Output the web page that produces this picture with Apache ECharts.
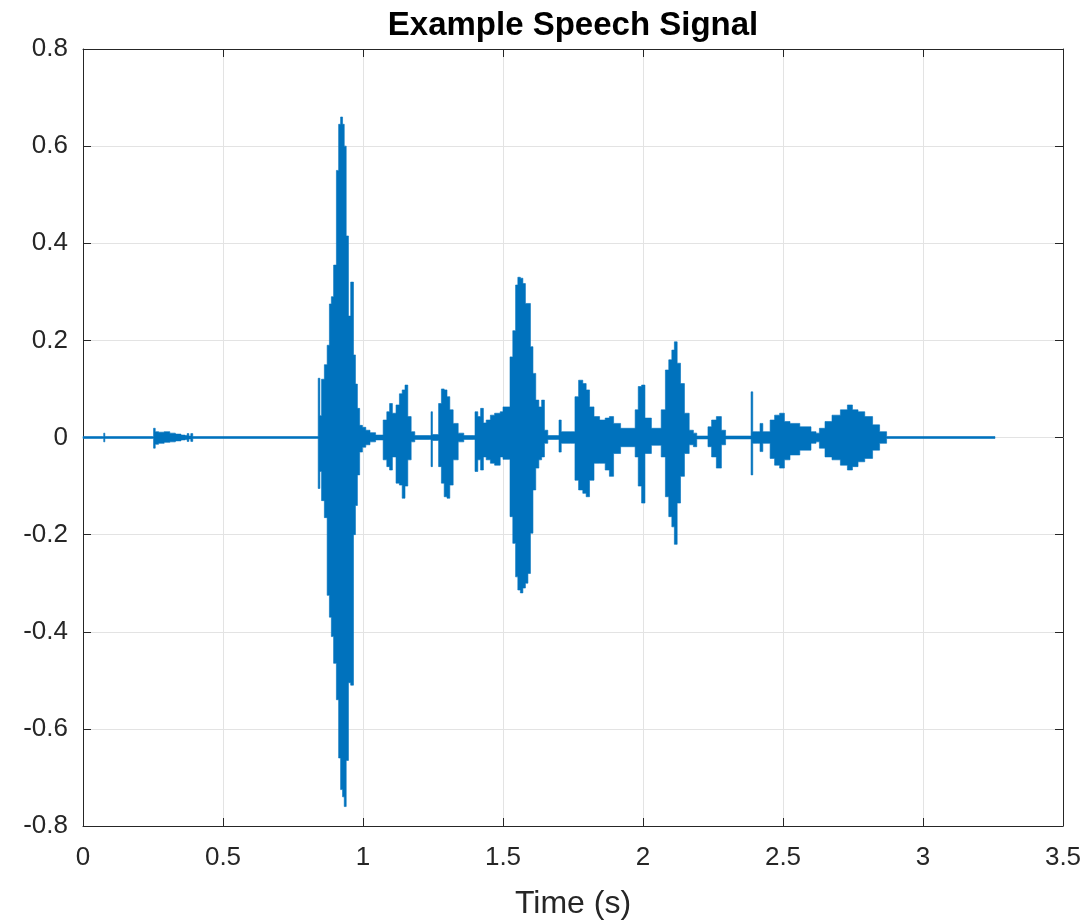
<!DOCTYPE html>
<html>
<head>
<meta charset="utf-8">
<script src="https://cdn.jsdelivr.net/npm/echarts@6/dist/echarts.min.js"></script>
<style>
  html, body { margin: 0; padding: 0; background: #ffffff; }
  #chart { width: 1091px; height: 922px; }
</style>
</head>
<body>
<div id="chart"></div>
<script>
// ---- Data (signal envelope: time in s, upper/lower amplitude) ----
const chartTitle = 'Example Speech Signal';
const xAxisTitle = 'Time (s)';
const xTicks = [0, 0.5, 1, 1.5, 2, 2.5, 3, 3.5];
const yTicks = [-0.8, -0.6, -0.4, -0.2, 0, 0.2, 0.4, 0.6, 0.8];

const timeS = [
  0.000, 0.070, 0.074, 0.078, 0.248, 0.252, 0.258, 0.270, 0.290, 0.310, 0.330, 0.350, 0.365, 0.372, 0.378, 0.385, 0.392,
  0.835, 0.840, 0.846, 0.852, 0.862, 0.872, 0.880, 0.887, 0.895, 0.905, 0.913, 0.920, 0.927, 0.933, 0.940, 0.948, 0.956,
  0.966, 0.973, 0.980, 0.988, 0.998, 1.010, 1.025, 1.045, 1.068,
  1.072, 1.085, 1.095, 1.105, 1.118, 1.130, 1.140, 1.150, 1.160, 1.172, 1.185, 1.238, 1.243, 1.248, 1.265,
  1.270, 1.280, 1.290, 1.300, 1.310, 1.322, 1.340, 1.360, 1.395,
  1.400, 1.410, 1.420, 1.430, 1.440, 1.455, 1.470, 1.490, 1.500,
  1.525, 1.535, 1.545, 1.553, 1.562, 1.571, 1.580, 1.589, 1.598, 1.607, 1.617, 1.628, 1.638, 1.648, 1.660, 1.695,
  1.700, 1.708, 1.740,
  1.757, 1.770, 1.785, 1.797, 1.809, 1.825, 1.845, 1.865, 1.880, 1.895, 1.920, 1.960,
  1.972, 1.983, 1.995, 2.007, 2.030, 2.060,
  2.065, 2.080, 2.092, 2.103, 2.112, 2.122, 2.134, 2.148, 2.165, 2.180, 2.192, 2.225,
  2.232, 2.245, 2.262, 2.280, 2.295, 2.380, 2.386, 2.392, 2.410, 2.418, 2.428, 2.450,
  2.454, 2.470, 2.488, 2.505, 2.525, 2.560, 2.600, 2.618, 2.630, 2.650, 2.675, 2.705, 2.730, 2.748, 2.768, 2.792, 2.820, 2.845, 2.870,
  3.257
];
const upperEnv = [
  0.002, 0.002, 0.009, 0.002, 0.002, 0.019, 0.012, 0.011, 0.012, 0.009, 0.007, 0.005, 0.004, 0.008, 0.003, 0.008, 0.002,
  0.002, 0.122, 0.045, 0.120, 0.150, 0.190, 0.275, 0.290, 0.355, 0.550, 0.645, 0.660, 0.645, 0.600, 0.415, 0.250, 0.320,
  0.170, 0.110, 0.060, 0.025, 0.021, 0.015, 0.010, 0.005, 0.005,
  0.036, 0.053, 0.070, 0.050, 0.067, 0.090, 0.098, 0.108, 0.043, 0.012, 0.004, 0.004, 0.053, 0.006, 0.006,
  0.070, 0.100, 0.098, 0.084, 0.057, 0.029, 0.009, 0.004, 0.004,
  0.053, 0.043, 0.060, 0.030, 0.036, 0.046, 0.050, 0.053, 0.063,
  0.166, 0.220, 0.314, 0.330, 0.328, 0.317, 0.276, 0.276, 0.187, 0.132, 0.077, 0.063, 0.077, 0.015, 0.004, 0.004,
  0.036, 0.012, 0.012,
  0.084, 0.118, 0.111, 0.098, 0.063, 0.043, 0.036, 0.040, 0.043, 0.029, 0.019, 0.019,
  0.057, 0.105, 0.108, 0.040, 0.019, 0.019,
  0.057, 0.139, 0.160, 0.180, 0.197, 0.153, 0.111, 0.050, 0.015, 0.009, 0.003, 0.003,
  0.022, 0.036, 0.043, 0.015, 0.003, 0.003, 0.094, 0.012, 0.012, 0.029, 0.012, 0.012,
  0.036, 0.046, 0.050, 0.033, 0.029, 0.022, 0.012, 0.009, 0.019, 0.033, 0.046, 0.057, 0.067, 0.057, 0.053, 0.043, 0.026, 0.012, 0.002,
  0.002
];
const lowerEnv = [
  -0.002, -0.002, -0.009, -0.002, -0.002, -0.022, -0.014, -0.012, -0.010, -0.009, -0.007, -0.005, -0.004, -0.008, -0.003, -0.008, -0.002,
  -0.002, -0.105, -0.070, -0.130, -0.165, -0.325, -0.370, -0.410, -0.465, -0.540, -0.660, -0.725, -0.740, -0.760, -0.665, -0.505, -0.510,
  -0.200, -0.140, -0.077, -0.030, -0.020, -0.015, -0.009, -0.005, -0.005,
  -0.046, -0.060, -0.067, -0.040, -0.094, -0.098, -0.125, -0.100, -0.046, -0.009, -0.004, -0.004, -0.060, -0.006, -0.006,
  -0.060, -0.094, -0.122, -0.125, -0.098, -0.046, -0.009, -0.004, -0.004,
  -0.070, -0.046, -0.067, -0.040, -0.046, -0.053, -0.057, -0.040, -0.045,
  -0.163, -0.218, -0.287, -0.314, -0.320, -0.310, -0.300, -0.280, -0.197, -0.108, -0.063, -0.046, -0.040, -0.012, -0.004, -0.004,
  -0.030, -0.012, -0.012,
  -0.088, -0.108, -0.115, -0.122, -0.088, -0.053, -0.053, -0.067, -0.080, -0.033, -0.019, -0.019,
  -0.040, -0.100, -0.135, -0.033, -0.016, -0.016,
  -0.040, -0.122, -0.163, -0.184, -0.220, -0.135, -0.080, -0.033, -0.015, -0.019, -0.003, -0.003,
  -0.019, -0.040, -0.063, -0.015, -0.003, -0.003, -0.077, -0.012, -0.012, -0.029, -0.012, -0.012,
  -0.043, -0.057, -0.063, -0.046, -0.036, -0.026, -0.012, -0.009, -0.022, -0.040, -0.046, -0.057, -0.067, -0.060, -0.050, -0.043, -0.026, -0.012, -0.002,
  -0.002
];

// ---- Build the chart ----
const lineColor = '#0072BD';
const axisColor = '#262626';
const gridColor = '#e3e3e3';
const fontFam = '"Liberation Sans", Arial, Helvetica, sans-serif';

// each segment: [t start, t end (next sample time), lower, upper]
const segments = [];
for (let i = 0; i < timeS.length - 1; i++) {
  segments.push([timeS[i], timeS[i + 1], lowerEnv[i], upperEnv[i]]);
}

function fmt(v) {
  if (Math.abs(v) < 1e-9) return '0';
  return String(+v.toFixed(1));
}

const xMin = xTicks[0], xMax = xTicks[xTicks.length - 1], xStep = xTicks[1] - xTicks[0];
const yMin = yTicks[0], yMax = yTicks[yTicks.length - 1], yStep = yTicks[1] - yTicks[0];

const chart = echarts.init(document.getElementById('chart'), null, { renderer: 'canvas' });
const tickStyle = { show: true, inside: true, length: 8, lineStyle: { color: axisColor, width: 1 } };

// Whole waveform drawn as one seamless stepped polygon (upper envelope forward, lower envelope back),
// every vertex placed through the axes' scales via api.coord.
function renderWave(params, api) {
  if (params.dataIndex !== 0) return null;
  const half = 0.7;
  const pts = [];
  for (let i = 0; i < segments.length; i++) {
    const s = segments[i];
    const a = api.coord([s[0], s[3]]);
    const b = api.coord([s[1], s[3]]);
    const z = api.coord([s[0], 0])[1];
    pts.push([a[0], Math.min(a[1], z - half)]);
    pts.push([b[0], Math.min(b[1], z - half)]);
  }
  for (let i = segments.length - 1; i >= 0; i--) {
    const s = segments[i];
    const b = api.coord([s[1], s[2]]);
    const a = api.coord([s[0], s[2]]);
    const z = api.coord([s[0], 0])[1];
    pts.push([b[0], Math.max(b[1], z + half)]);
    pts.push([a[0], Math.max(a[1], z + half)]);
  }
  return {
    type: 'polygon',
    shape: { points: pts },
    style: { fill: lineColor, stroke: lineColor, lineWidth: 0.6 }
  };
}

chart.setOption({
  animation: false,
  backgroundColor: '#ffffff',
  grid: { left: 83, right: 28, top: 49, bottom: 96, containLabel: false, outerBoundsMode: 'none' },
  xAxis: [
    {
      type: 'value', position: 'bottom', min: xMin, max: xMax, interval: xStep,
      name: xAxisTitle, nameLocation: 'middle', nameGap: 62,
      nameTextStyle: { fontFamily: fontFam, fontSize: 32, color: axisColor },
      axisLine: { show: true, onZero: false, lineStyle: { color: axisColor, width: 1 } },
      axisTick: tickStyle,
      axisLabel: { fontFamily: fontFam, fontSize: 26, color: axisColor, margin: 19, formatter: fmt },
      splitLine: { show: true, lineStyle: { color: gridColor, width: 1 } }
    },
    {
      type: 'value', position: 'top', min: xMin, max: xMax, interval: xStep,
      name: chartTitle, nameLocation: 'middle', nameGap: 7,
      nameTextStyle: { fontFamily: fontFam, fontSize: 33, fontWeight: 'bold', color: '#000000', verticalAlign: 'bottom' },
      axisLine: { show: true, onZero: false, lineStyle: { color: axisColor, width: 1 } },
      axisTick: tickStyle,
      axisLabel: { show: false },
      splitLine: { show: false }
    }
  ],
  yAxis: [
    {
      type: 'value', position: 'left', min: yMin, max: yMax, interval: yStep,
      axisLine: { show: true, onZero: false, lineStyle: { color: axisColor, width: 1 } },
      axisTick: tickStyle,
      axisLabel: { fontFamily: fontFam, fontSize: 26, color: axisColor, margin: 15, formatter: fmt },
      splitLine: { show: true, lineStyle: { color: gridColor, width: 1 } }
    },
    {
      type: 'value', position: 'right', min: yMin, max: yMax, interval: yStep,
      axisLine: { show: true, onZero: false, lineStyle: { color: axisColor, width: 1 } },
      axisTick: tickStyle,
      axisLabel: { show: false },
      splitLine: { show: false }
    }
  ],
  series: [
    {
      name: 'Speech signal', type: 'custom', xAxisIndex: 0, yAxisIndex: 0,
      data: segments, silent: true,
      encode: { x: [0, 1], y: [2, 3] },
      renderItem: renderWave
    }
  ]
});
</script>
</body>
</html>
